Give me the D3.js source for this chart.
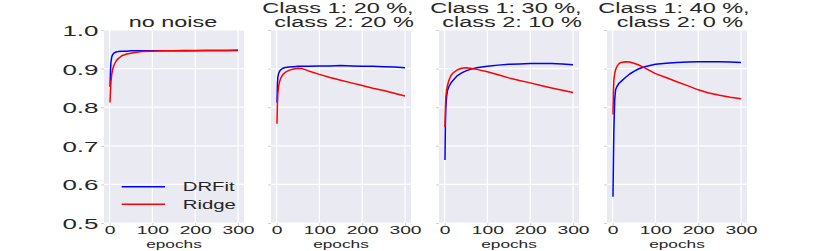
<!DOCTYPE html>
<html><head><meta charset="utf-8">
<script src="https://cdn.jsdelivr.net/npm/d3@7"></script>
<style>
body{margin:0;background:#fff}
svg text{font-family:"Liberation Sans",Arial,Helvetica,sans-serif;fill:#262626}
</style>
</head><body>
<svg id="chart" width="830" height="251"></svg>
<script>
// ---- data ----
const epochs = [1,2,3,5,7,10,15,20,30,40,50,60,75,100,125,150,175,200,225,250,275,300];
const panelTitles = [["no noise"],["Class 1: 20 %,","class 2: 20 %"],["Class 1: 30 %,","class 2: 10 %"],["Class 1: 40 %,","class 2: 0 %"]];
const seriesNames = ["DRFit","Ridge"];
const drfitNoNoise = [0.853,0.890,0.915,0.930,0.936,0.940,0.943,0.944,0.945,0.945,0.946,0.946,0.946,0.946,0.946,0.946,0.947,0.946,0.947,0.947,0.947,0.947];
const ridgeNoNoise = [0.812,0.840,0.862,0.885,0.897,0.908,0.919,0.926,0.934,0.938,0.940,0.942,0.944,0.945,0.946,0.946,0.946,0.947,0.947,0.947,0.947,0.948];
const drfit20_20 = [0.812,0.860,0.878,0.888,0.893,0.897,0.901,0.903,0.904,0.905,0.906,0.906,0.906,0.907,0.907,0.908,0.907,0.906,0.906,0.905,0.904,0.902];
const ridge20_20 = [0.757,0.810,0.835,0.855,0.866,0.876,0.885,0.890,0.896,0.899,0.901,0.900,0.894,0.885,0.877,0.870,0.863,0.856,0.849,0.843,0.836,0.829];
const drfit30_10 = [0.663,0.760,0.800,0.830,0.844,0.853,0.863,0.870,0.882,0.889,0.894,0.898,0.902,0.906,0.909,0.911,0.912,0.913,0.913,0.913,0.912,0.910];
const ridge30_10 = [0.748,0.800,0.827,0.846,0.857,0.869,0.882,0.889,0.897,0.901,0.902,0.901,0.898,0.892,0.884,0.876,0.869,0.863,0.856,0.850,0.844,0.838];
const drfit40_0 = [0.568,0.660,0.740,0.820,0.845,0.853,0.862,0.867,0.877,0.886,0.893,0.899,0.905,0.911,0.914,0.916,0.917,0.918,0.918,0.918,0.917,0.916];
const ridge40_0 = [0.781,0.844,0.870,0.888,0.897,0.905,0.913,0.916,0.918,0.917,0.914,0.910,0.902,0.887,0.877,0.866,0.856,0.845,0.837,0.831,0.826,0.822];
const yTickValues = [0.5,0.6,0.7,0.8,0.9,1.0];
const xTickValues = [0,100,200,300];
const xLabel = "epochs";

const panelData = [
  [drfitNoNoise, ridgeNoNoise],
  [drfit20_20, ridge20_20],
  [drfit30_10, ridge30_10],
  [drfit40_0, ridge40_0]
];
const colors = ["#0000ff","#ff0000"];

// ---- layout ----
const svg = d3.select("#chart");
const panelLefts = [104, 271, 439, 607];
const pw = 140, plotTop = 30, plotBottom = 223;
const y = d3.scaleLinear().domain([0.5,1.0]).range([plotBottom, plotTop]);

panelData.forEach((series, i) => {
  const left = panelLefts[i];
  const x = d3.scaleLinear().domain([-13, 314]).range([left, left + pw]);
  const g = svg.append("g");
  g.append("rect").attr("x", left).attr("y", plotTop).attr("width", pw).attr("height", plotBottom - plotTop).attr("fill", "#eaeaf2");

  // grid
  g.append("g").selectAll("line").data(yTickValues).join("line")
    .attr("x1", left).attr("x2", left + pw).attr("y1", d => y(d)).attr("y2", d => y(d))
    .attr("stroke", "#fff").attr("stroke-width", 1.2);
  g.append("g").selectAll("line").data(xTickValues).join("line")
    .attr("y1", plotTop).attr("y2", plotBottom).attr("x1", d => x(d)).attr("x2", d => x(d))
    .attr("stroke", "#fff").attr("stroke-width", 1.2);

  // y axis
  const ya = g.append("g").attr("transform", `translate(${left},0)`)
    .call(d3.axisLeft(y).tickValues(yTickValues).tickSize(3).tickPadding(5.5).tickFormat(i === 0 ? d3.format(".1f") : () => ""));
  ya.select(".domain").remove();
  ya.selectAll(".tick line").attr("stroke", "#d0d0d0");
  ya.selectAll(".tick text").attr("font-size", 15).attr("font-family", null).attr("fill", "#262626")
    .attr("dy", "0.36em").attr("transform", "scale(1.73,1)").attr("x", -5.5 / 1.73);

  // x axis
  const xa = g.append("g").attr("transform", `translate(0,${plotBottom})`)
    .call(d3.axisBottom(x).tickValues(xTickValues).tickSize(3).tickPadding(0));
  xa.select(".domain").remove();
  xa.selectAll(".tick line").attr("stroke", "#d0d0d0");
  xa.selectAll(".tick text").attr("font-size", 11).attr("font-family", null).attr("fill", "#262626")
    .attr("transform", "scale(1.75,1)");

  g.append("text").attr("x", (left + pw/2) / 1.5).attr("y", 248).attr("text-anchor", "middle")
    .attr("font-size", 11.5).attr("transform", "scale(1.5,1)").text(xLabel);

  // titles
  const titleLines = panelTitles[i];
  const cx = left + pw/2;
  titleLines.forEach((t, k) => {
    const yy = titleLines.length === 1 ? 27 : (k === 0 ? 12.5 : 27.5);
    const off = titleLines.length === 1 ? -1 : (k === 0 ? -3 : 3);
    g.append("text").attr("x", (cx + off) / 1.62).attr("y", yy).attr("text-anchor", "middle")
      .attr("font-size", 14.5).attr("transform", "scale(1.62,1)").text(t);
  });

  // lines
  const line = d3.line().x((d, j) => x(epochs[j])).y(d => y(d));
  series.forEach((vals, s) => {
    g.append("path").datum(vals).attr("d", line).attr("fill", "none")
      .attr("stroke", colors[s]).attr("stroke-width", 1.5).attr("stroke-linejoin", "round");
  });

  // legend on first panel
  if (i === 0) {
    const lg = g.append("g");
    seriesNames.forEach((name, s) => {
      const ly = 186.7 + s * 17.6;
      lg.append("line").attr("x1", 121.7).attr("x2", 165).attr("y1", ly).attr("y2", ly)
        .attr("stroke", colors[s]).attr("stroke-width", 1.5);
      lg.append("text").attr("x", 182.7 / 1.63).attr("y", ly + 4.3).attr("font-size", 12.5)
        .attr("transform", "scale(1.63,1)").text(name);
    });
  }
});
</script>
</body></html>
